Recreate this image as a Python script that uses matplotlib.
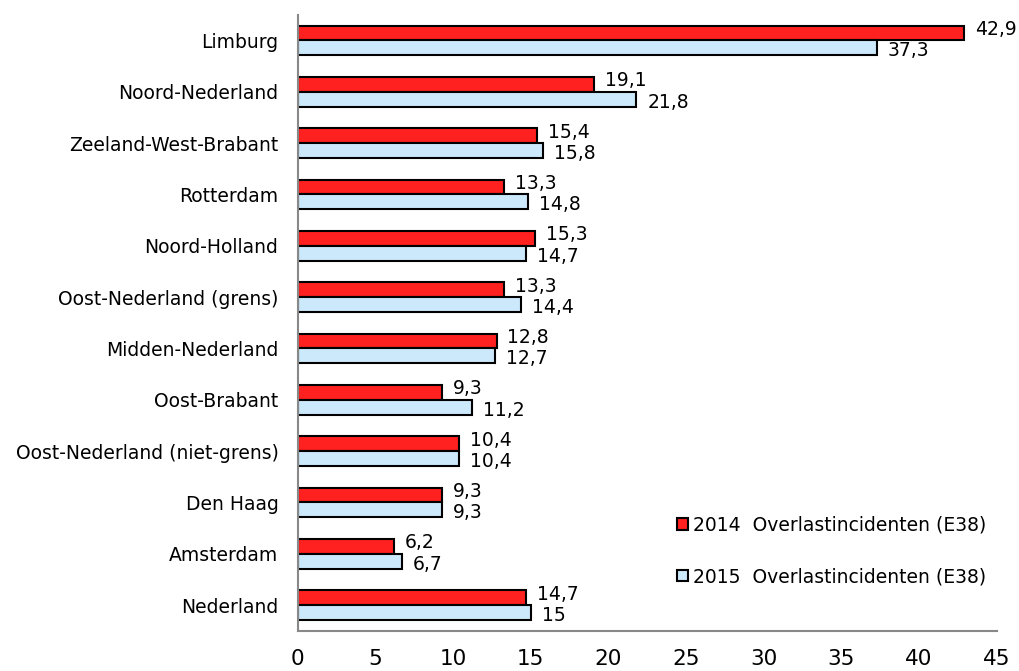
import numpy as np
import matplotlib.pyplot as plt

regions = ['Limburg', 'Noord-Nederland', 'Zeeland-West-Brabant', 'Rotterdam',
           'Noord-Holland', 'Oost-Nederland (grens)', 'Midden-Nederland',
           'Oost-Brabant', 'Oost-Nederland (niet-grens)', 'Den Haag',
           'Amsterdam', 'Nederland']
vals_2014 = [42.9, 19.1, 15.4, 13.3, 15.3, 13.3, 12.8, 9.3, 10.4, 9.3, 6.2, 14.7]
vals_2015 = [37.3, 21.8, 15.8, 14.8, 14.7, 14.4, 12.7, 11.2, 10.4, 9.3, 6.7, 15]
series_names = ['2014  Overlastincidenten (E38)', '2015  Overlastincidenten (E38)']

red = '#ff2020'
blue = '#cce9fb'

def fmt(v):
    s = ('%.1f' % v).replace('.', ',')
    if s.endswith(',0'):
        s = s[:-2]
    return s

fig = plt.figure(figsize=(10.2, 6.71), dpi=100)
ax = fig.add_axes([0.292, 0.06, 0.685, 0.918])

y = np.arange(len(regions))
h = 0.29
ax.barh(y - h / 2, vals_2014, height=h, color=red, edgecolor='black', linewidth=1.5, label=series_names[0])
ax.barh(y + h / 2, vals_2015, height=h, color=blue, edgecolor='black', linewidth=1.5, label=series_names[1])

for i in range(len(regions)):
    ax.text(vals_2014[i] + 0.7, y[i] - h / 2 - 0.07, fmt(vals_2014[i]), fontsize=13.5, va='center', ha='left')
    ax.text(vals_2015[i] + 0.7, y[i] + h / 2 + 0.06, fmt(vals_2015[i]), fontsize=13.5, va='center', ha='left')

ax.set_xlim(0, 45)
ax.set_ylim(len(regions) - 0.5, -0.5)
ax.set_xticks(np.arange(0, 46, 5))
ax.set_yticks(y)
ax.set_yticklabels(regions, fontsize=13.5)
ax.tick_params(axis='x', length=0, labelsize=15.5, pad=13)
ax.tick_params(axis='y', length=0, pad=14)

for s in ['top', 'right']:
    ax.spines[s].set_visible(False)
for s in ['left', 'bottom']:
    ax.spines[s].set_color('#888888')
    ax.spines[s].set_linewidth(1.5)

leg = ax.legend(loc='lower right', bbox_to_anchor=(1.01, 0.045), frameon=False, fontsize=13.5,
                handlelength=0.6, handleheight=0.6, handletextpad=0.3, labelspacing=1.75)

fig.savefig('out.png', dpi=100)
